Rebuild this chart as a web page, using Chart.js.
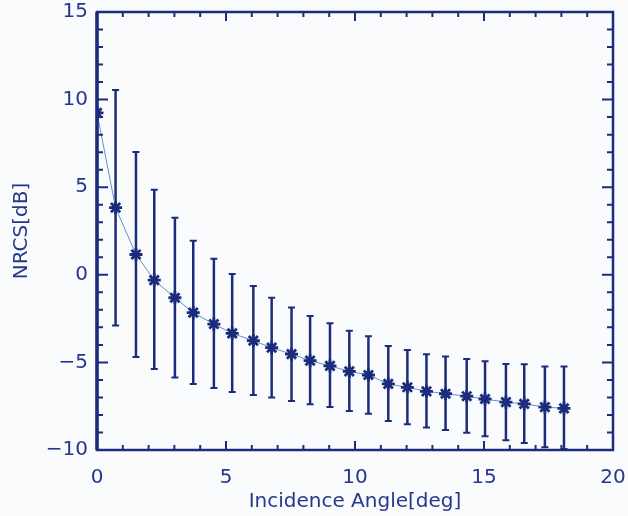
<!DOCTYPE html>
<html>
<head>
<meta charset="utf-8">
<script src="https://cdn.jsdelivr.net/npm/chart.js@4/dist/chart.umd.min.js"></script>
<style>
  html, body { margin: 0; padding: 0; background: #fafbfd; }
  #wrap { width: 628px; height: 516px; position: relative; }
</style>
</head>
<body>
<div id="wrap"><canvas id="c" width="628" height="516"></canvas></div>
<script>
// ---- Data ----
const angles = [0, 0.72, 1.51, 2.22, 3.02, 3.73, 4.53, 5.24, 6.06, 6.77, 7.54, 8.26, 9.03, 9.78, 10.52, 11.29, 12.03, 12.77, 13.51, 14.33, 15.04, 15.85, 16.56, 17.36, 18.10];
const nrcs = [9.24, 3.83, 1.16, -0.30, -1.31, -2.16, -2.81, -3.34, -3.76, -4.16, -4.53, -4.90, -5.20, -5.51, -5.72, -6.23, -6.42, -6.65, -6.79, -6.93, -7.09, -7.27, -7.37, -7.55, -7.62];
const errHigh = [null, 10.55, 7.01, 4.86, 3.25, 1.95, 0.92, 0.05, -0.64, -1.31, -1.87, -2.35, -2.77, -3.20, -3.51, -4.06, -4.29, -4.54, -4.67, -4.81, -4.94, -5.09, -5.11, -5.24, -5.24];
const errLow = [null, -2.90, -4.69, -5.38, -5.86, -6.24, -6.46, -6.69, -6.86, -7.01, -7.20, -7.39, -7.55, -7.77, -7.93, -8.34, -8.53, -8.72, -8.86, -9.01, -9.21, -9.45, -9.60, -9.85, -9.95];
const xTicks = [0, 5, 10, 15, 20];
const yTicks = [-10, -5, 0, 5, 10, 15];
const xTitle = 'Incidence Angle[deg]';
const yTitle = 'NRCS[dB]';

const NAVY = '#1c2c7c';
const TEXT = '#26388c';
const LINE = '#5d93cc';
const FONT = 'DejaVu Sans';

const points = angles.map((a, i) => ({ x: a, y: nrcs[i] }));

const errorBars = {
  id: 'errorBars',
  beforeDatasetsDraw(chart) {
    const { ctx, scales: { x, y } } = chart;
    ctx.save();
    ctx.strokeStyle = NAVY;
    ctx.lineCap = 'butt';
    angles.forEach((a, i) => {
      if (errHigh[i] === null || errLow[i] === null) return;
      const px = x.getPixelForValue(a);
      const pt = y.getPixelForValue(errHigh[i]);
      const pb = y.getPixelForValue(errLow[i]);
      ctx.lineWidth = 2.5;
      ctx.beginPath();
      ctx.moveTo(px, pt); ctx.lineTo(px, pb);
      ctx.stroke();
      ctx.lineWidth = 2;
      ctx.beginPath();
      ctx.moveTo(px - 3.5, pt); ctx.lineTo(px + 3.5, pt);
      ctx.moveTo(px - 3.5, pb); ctx.lineTo(px + 3.5, pb);
      ctx.stroke();
    });
    ctx.restore();
  }
};

const frame = {
  id: 'frame',
  afterDraw(chart) {
    const { ctx, chartArea: ca, scales: { x, y } } = chart;
    ctx.save();
    ctx.strokeStyle = NAVY;
    ctx.lineWidth = 2;
    for (let v = x.min; v <= x.max + 1e-9; v += 1) {
      const px = x.getPixelForValue(v);
      const len = (Math.abs(v % 5) < 1e-9) ? 9 : 5;
      ctx.beginPath();
      ctx.moveTo(px, ca.bottom); ctx.lineTo(px, ca.bottom - len);
      ctx.moveTo(px, ca.top); ctx.lineTo(px, ca.top + len);
      ctx.stroke();
    }
    for (let v = y.min; v <= y.max + 1e-9; v += 1) {
      const py = y.getPixelForValue(v);
      const len = (Math.abs(v % 5) < 1e-9) ? 11 : 6;
      ctx.beginPath();
      ctx.moveTo(ca.left, py); ctx.lineTo(ca.left + len, py);
      ctx.moveTo(ca.right, py); ctx.lineTo(ca.right - len, py);
      ctx.stroke();
    }
    ctx.lineWidth = 2.5;
    ctx.strokeRect(ca.left, ca.top, ca.right - ca.left, ca.bottom - ca.top);
    ctx.lineWidth = 3.5;
    ctx.beginPath();
    ctx.moveTo(ca.left, ca.top); ctx.lineTo(ca.left, ca.bottom);
    ctx.stroke();
    ctx.restore();
  }
};

function zeroPad(s) {
  s.paddingLeft = 0; s.paddingRight = 0; s.paddingTop = 0; s.paddingBottom = 0;
}

new Chart(document.getElementById('c'), {
  type: 'scatter',
  data: {
    datasets: [{
      data: points,
      showLine: true,
      borderColor: LINE,
      borderWidth: 1,
      pointStyle: 'star',
      pointRadius: 6.5,
      pointBorderColor: NAVY,
      pointBackgroundColor: NAVY,
      pointBorderWidth: 2.8,
      tension: 0
    }]
  },
  options: {
    responsive: false,
    animation: false,
    events: [],
    layout: { autoPadding: false, padding: { top: 12, right: 15, left: 0, bottom: 0 } },
    plugins: { legend: { display: false }, tooltip: { enabled: false } },
    scales: {
      x: {
        type: 'linear',
        min: 0, max: 20,
        afterBuildTicks: (s) => { s.ticks = xTicks.map(v => ({ value: v })); },
        afterFit: (s) => { s.height = 66; zeroPad(s); },
        grid: { display: false, drawTicks: false },
        border: { display: false },
        ticks: {
          padding: 16,
          color: TEXT,
          font: { family: FONT, size: 20 },
          callback: (v) => String(v).replace('-', '\u2212')
        },
        title: {
          display: true, text: xTitle, color: TEXT,
          font: { family: FONT, size: 20 },
          padding: { top: 0, bottom: 2 }
        }
      },
      y: {
        type: 'linear',
        min: -10, max: 15,
        afterBuildTicks: (s) => { s.ticks = yTicks.map(v => ({ value: v })); },
        afterFit: (s) => { s.width = 97; zeroPad(s); },
        grid: { display: false, drawTicks: false },
        border: { display: false },
        ticks: {
          padding: 9,
          color: TEXT,
          font: { family: FONT, size: 20 },
          callback: (v) => String(v).replace('-', '\u2212')
        },
        title: {
          display: true, text: yTitle, color: TEXT,
          font: { family: FONT, size: 20 },
          padding: { top: 10, bottom: 0 }
        }
      }
    }
  },
  plugins: [errorBars, frame]
});
</script>
</body>
</html>
